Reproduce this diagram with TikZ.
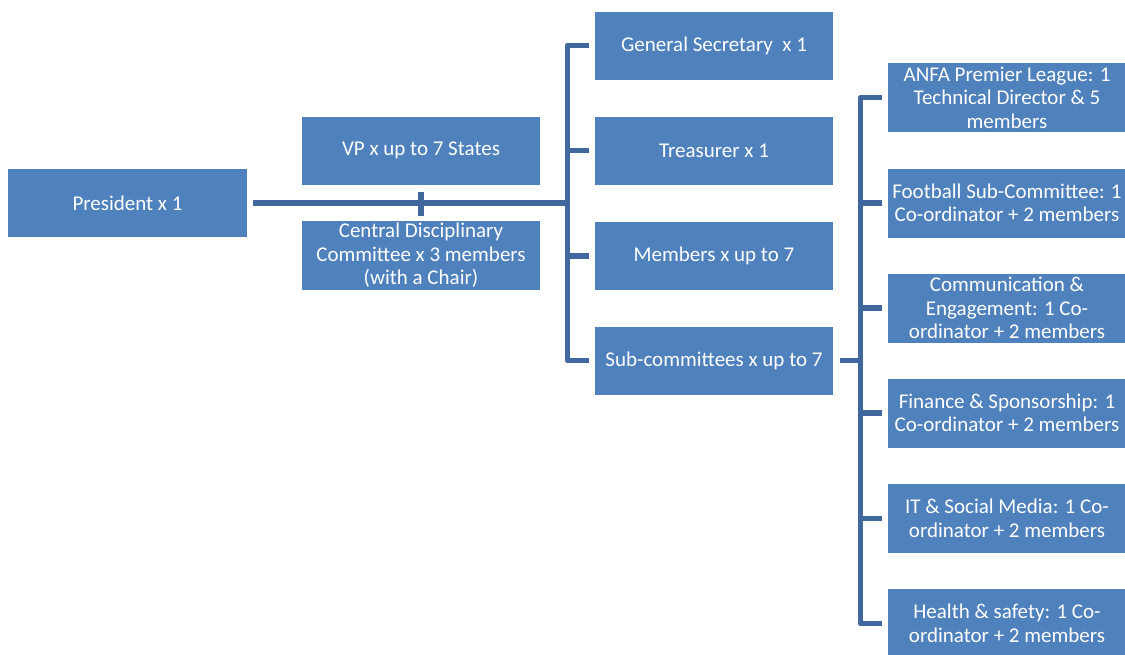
\documentclass[tikz,border=0pt]{standalone}
\usepackage{fontspec}
\setmainfont{Carlito}
\definecolor{boxfill}{HTML}{4F81BD}
\definecolor{linecol}{HTML}{41689C}
\begin{document}
\begin{tikzpicture}[x=1pt,y=-1pt,
  box/.style={fill=boxfill,draw=none,text=white,align=center,inner sep=0pt,
    minimum width=238pt,minimum height=68pt,
    font=\fontsize{21}{23.5}\selectfont},
  conn/.style={draw=linecol,line width=5.5pt,line join=round}]
\useasboundingbox (0,0) rectangle (1125,654);
\node[box,minimum width=239pt] (pres) at (127.5,203) {President x 1};
\node[box] (vp) at (421,150.5) {VP x up to 7 States};
\node[box,minimum height=69pt] (cdc) at (421,255.5) {Central Disciplinary\\Committee x 3 members\\(with a Chair)};
\node[box] (gs) at (714,45.5) {General Secretary\ \ x 1};
\node[box] (tr) at (714,150.5) {Treasurer x 1};
\node[box] (mem) at (714,256) {Members x up to 7};
\node[box] (sub) at (714,360.5) {Sub-committees x up to 7};
\node[box,minimum height=69pt] (r1) at (1007,97.5) {ANFA Premier League: 1\\Technical Director \& 5\\members};
\node[box,minimum height=69pt] (r2) at (1007,203) {Football Sub-Committee: 1\\Co-ordinator + 2 members};
\node[box,minimum height=69pt] (r3) at (1007,308) {Communication \&\\Engagement: 1 Co-\\ordinator + 2 members};
\node[box,minimum height=69pt] (r4) at (1007,413) {Finance \& Sponsorship: 1\\Co-ordinator + 2 members};
\node[box,minimum height=69pt] (r5) at (1007,518.5) {IT \& Social Media: 1 Co-\\ordinator + 2 members};
\node[box,minimum height=69pt] (r6) at (1007,623.5) {Health \& safety: 1 Co-\\ordinator + 2 members};
\coordinate (j1) at (567.5,203);
\coordinate (j2) at (860.5,360.5);
% president trunk
\draw[conn] ([xshift=6pt]pres.east) -- (j1);
\draw[conn] ([yshift=-7pt]vp.south) -- ([yshift=5pt]cdc.north);
% left bracket
\draw[conn] ([xshift=-5.5pt]gs.west) -- (gs.west -| j1) -- (sub.west -| j1) -- ([xshift=-5.5pt]sub.west);
\draw[conn] ([xshift=-5.5pt]tr.west) -- (tr.west -| j1);
\draw[conn] ([xshift=-5.5pt]mem.west) -- (mem.west -| j1);
% right bracket
\draw[conn] ([xshift=7pt]sub.east) -- (j2);
\draw[conn] ([xshift=-5.5pt]r1.west) -- (r1.west -| j2) -- (r6.west -| j2) -- ([xshift=-5.5pt]r6.west);
\foreach \n in {r2,r3,r4,r5}
  \draw[conn] ([xshift=-5.5pt]\n.west) -- (\n.west -| j2);
\end{tikzpicture}
\end{document}
